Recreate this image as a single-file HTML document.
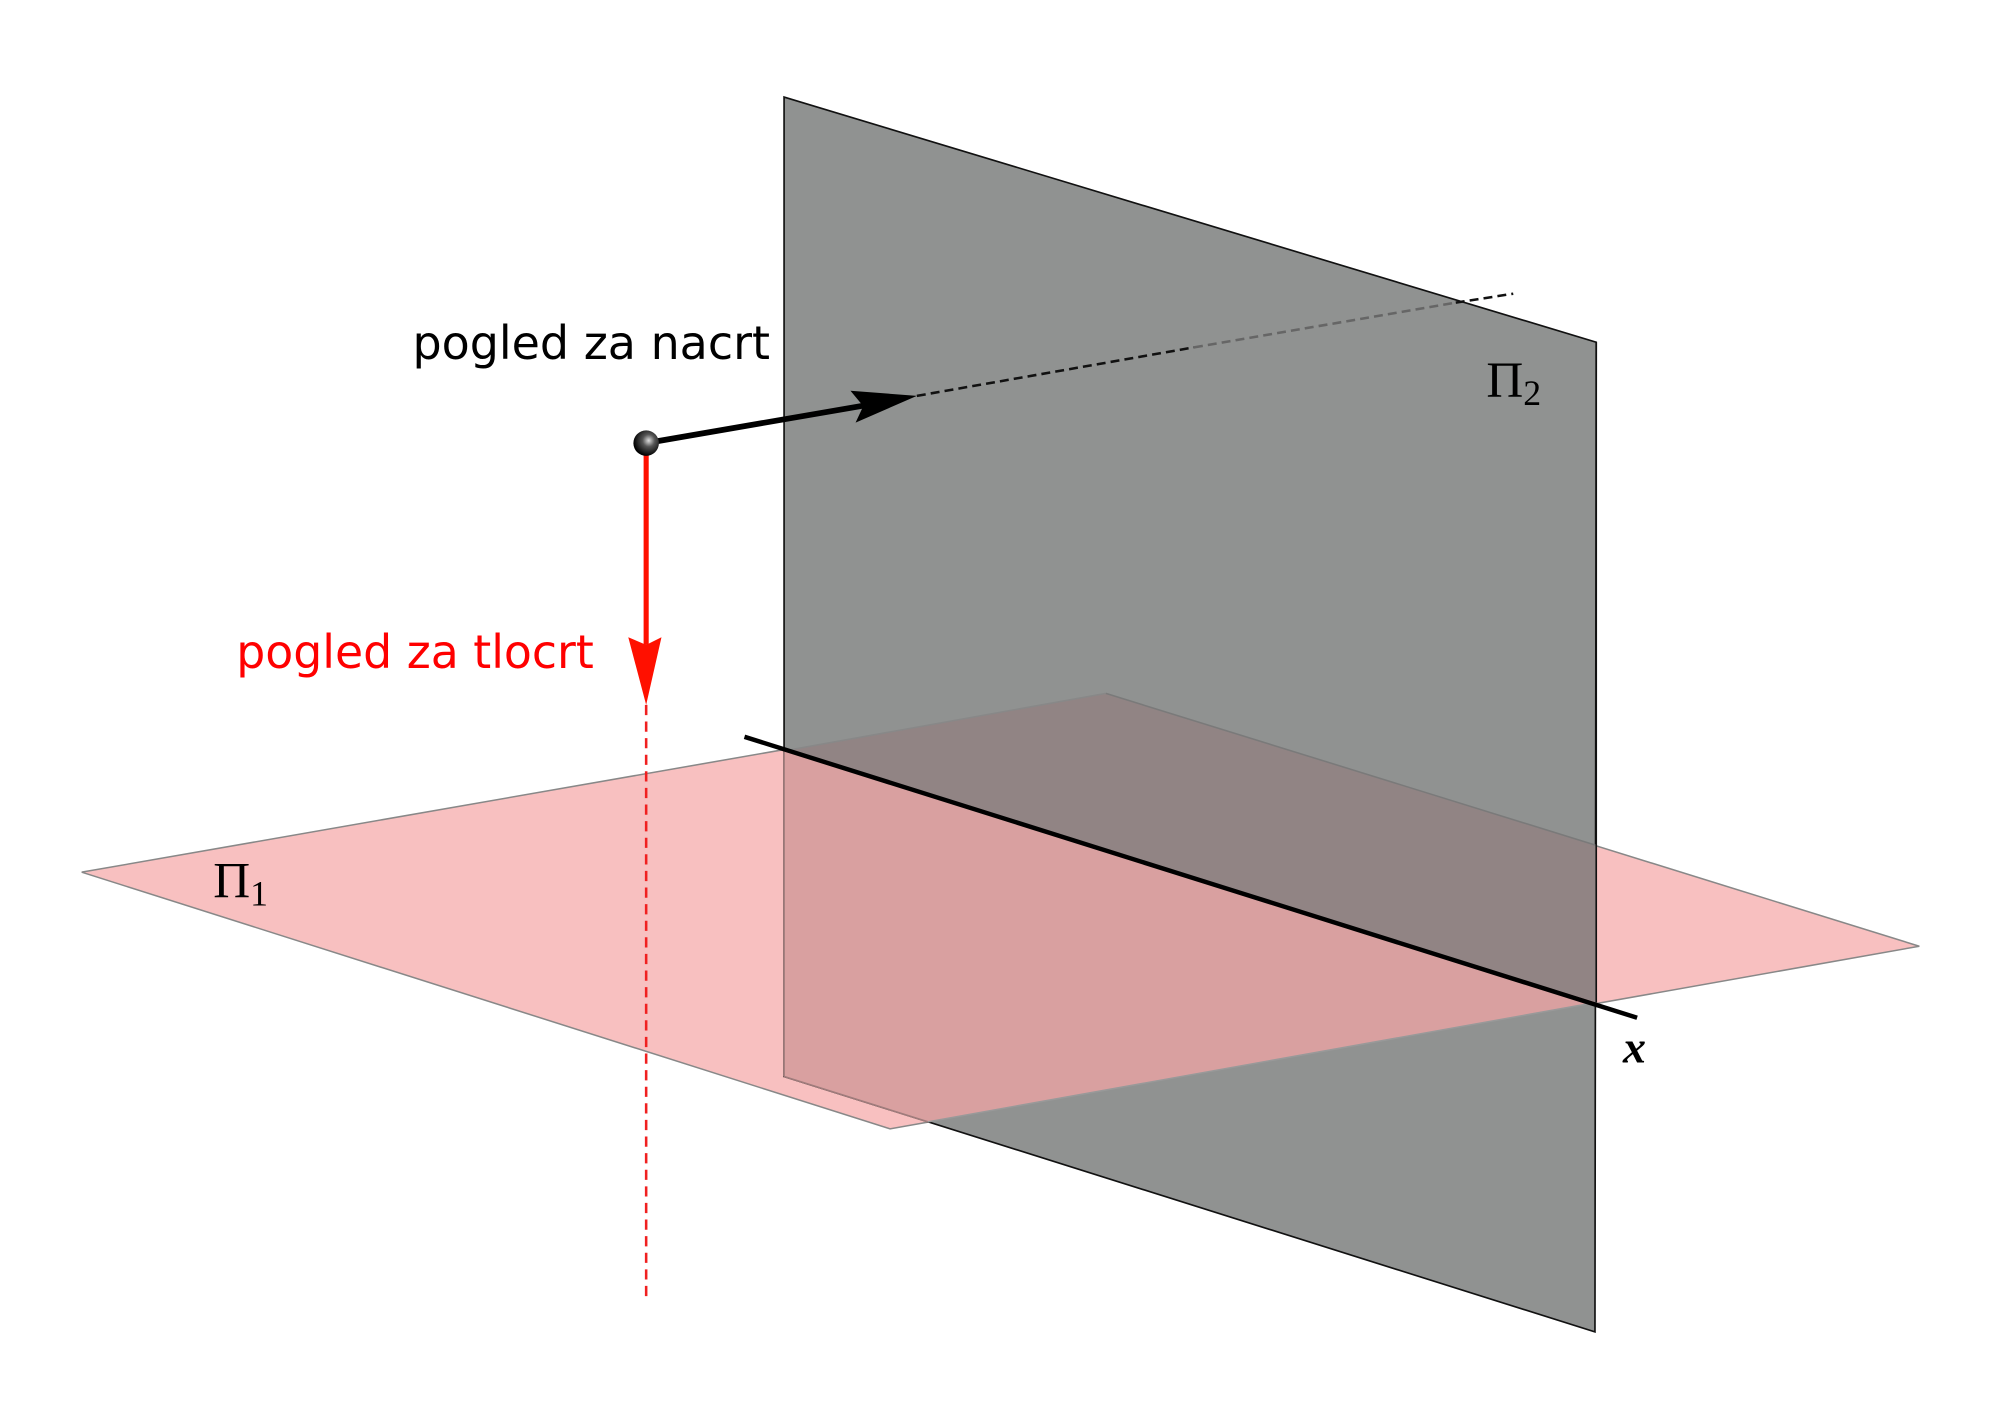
<!DOCTYPE html>
<html><head><meta charset="utf-8"><style>
html,body{margin:0;padding:0;background:#fff;}
svg{display:block;}
</style></head><body>
<svg width="1999" height="1420" viewBox="0 0 1565.4 1112" preserveAspectRatio="none" xmlns="http://www.w3.org/2000/svg">
<defs>
<radialGradient id="ball" cx="0.6" cy="0.4" r="0.6">
<stop offset="0" stop-color="#ddd"/><stop offset="0.4" stop-color="#555"/><stop offset="1" stop-color="#000"/>
</radialGradient>
</defs>
<rect width="1565.4" height="1112" fill="#fff"/>
<polygon points="64,683 866,543 1503,741 697,884" fill="#f8c0c0" stroke="#888" stroke-width="1.2"/>
<polygon points="614,76 1250,268 1249,1043 614,843" fill="#909291" stroke="#111" stroke-width="1.3"/>
<polygon points="614,588 866,543 1250,662 1250,785" fill="#918484"/>
<line x1="614" y1="588" x2="866" y2="543" stroke="#888" stroke-width="1.2"/>
<line x1="866" y1="543" x2="1250" y2="662" stroke="#7a7a7a" stroke-width="1.2"/>
<polygon points="614,588 1250,785 726.6,878.5 614,843" fill="#d9a0a0"/>
<line x1="614" y1="588" x2="614" y2="843" stroke="#a07c7c" stroke-width="1.3"/>
<line x1="614" y1="843" x2="726.6" y2="878.5" stroke="#a07c7c" stroke-width="1.3"/>
<line x1="726.6" y1="878.5" x2="1250" y2="785" stroke="#999" stroke-width="1.2"/>
<line x1="1250" y1="268" x2="1250" y2="785" stroke="#111" stroke-width="1.3"/>
<line x1="583" y1="577" x2="1282" y2="797" stroke="#000" stroke-width="3.5"/>
<line x1="506" y1="552" x2="506" y2="1020" stroke="#f02020" stroke-width="2" stroke-dasharray="8,5"/>
<line x1="506" y1="350" x2="506" y2="505" stroke="#ff1000" stroke-width="4"/>
<polygon points="492,499 506,505 518,499 506,552" fill="#ff1000"/>
<line x1="718" y1="310" x2="935" y2="272" stroke="#111" stroke-width="2" stroke-dasharray="7,4"/>
<line x1="935" y1="272" x2="1140" y2="237" stroke="#666" stroke-width="2" stroke-dasharray="7,4"/>
<line x1="1140" y1="237" x2="1185" y2="230" stroke="#111" stroke-width="2" stroke-dasharray="7,4"/>
<line x1="506" y1="347" x2="680" y2="317" stroke="#000" stroke-width="4.5"/>
<polygon points="666,306 676,318 670,331 718,310" fill="#000"/>
<circle cx="506" cy="347" r="10" fill="url(#ball)"/>
<text x="323" y="281" font-family="DejaVu Sans, Liberation Sans, sans-serif" font-size="36" fill="#000" textLength="280" lengthAdjust="spacingAndGlyphs">pogled za nacrt</text>
<text x="185" y="523" font-family="DejaVu Sans, Liberation Sans, sans-serif" font-size="36" fill="#ff0000" textLength="280" lengthAdjust="spacingAndGlyphs">pogled za tlocrt</text>
<text x="1164" y="311" font-family="Liberation Serif, serif" font-size="40" fill="#000">Π<tspan font-size="28" dy="6">2</tspan></text>
<text x="167" y="703" font-family="Liberation Serif, serif" font-size="40" fill="#000">Π<tspan font-size="28" dy="6">1</tspan></text>
<text x="1271" y="832" font-family="Liberation Serif, serif" font-size="36" font-style="italic" font-weight="bold" fill="#000">x</text>
</svg>
</body></html>
